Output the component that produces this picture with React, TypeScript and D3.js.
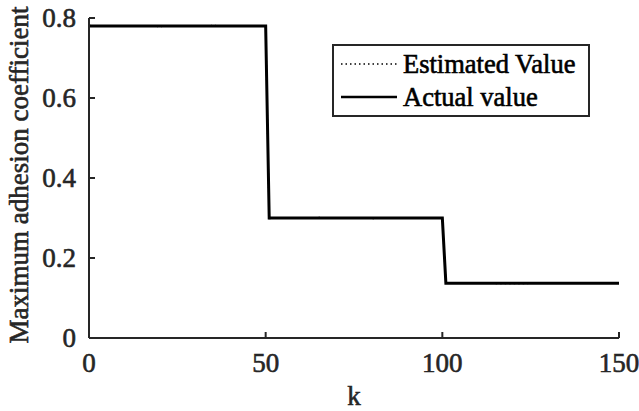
import * as d3 from 'd3';

const W = 639;
const H = 411;

// step profile of the adhesion coefficient
const actualK = [0, 50, 51, 100, 101, 150];
const actualValue = [0.78, 0.78, 0.3, 0.3, 0.137, 0.137];

// estimator output, hugging the true value
const estimatedK = [0, 20, 35, 50, 51, 65, 80, 100, 101, 120, 135, 150];
const estimatedValue = [0.781, 0.779, 0.781, 0.78, 0.299, 0.301, 0.299, 0.3, 0.138, 0.136, 0.138, 0.137];

const xTicks = [0, 50, 100, 150];
const yTicks = [0, 0.2, 0.4, 0.6, 0.8];

const legendItems = ['Estimated Value', 'Actual value'];

const AXIS = '#262626';
// regular Times with a hairline stroke to get the heavier print look
const txt = { fontFamily: 'Liberation Serif', fontSize: 27, stroke: AXIS, strokeWidth: 0.6 };
const legendTxt = { ...txt, fontSize: 26.5, stroke: '#000' };

const m = { left: 89, top: 18, right: 20, bottom: 73 };
const x = d3.scaleLinear().domain([0, 150]).range([m.left, W - m.right]);
const y = d3.scaleLinear().domain([0, 0.8]).range([H - m.bottom, m.top]);

const line = d3
  .line<[number, number]>()
  .x((d) => x(d[0]))
  .y((d) => y(d[1]));

const actual = actualK.map((k, i) => [k, actualValue[i]] as [number, number]);
const estimated = estimatedK.map((k, i) => [k, estimatedValue[i]] as [number, number]);

const fmtY = (v: number) => (v === 0 ? '0' : d3.format('.1f')(v));

export default function App() {
  const x0 = x.range()[0];
  const y0 = y.range()[0];
  return (
    <svg
      width={W}
      height={H}
      style={{ display: 'block', position: 'absolute', left: 0, top: 0, background: '#fff' }}
    >
      <path d={line(actual) ?? ''} fill="none" stroke="#000" strokeWidth={3} />
      <path d={line(estimated) ?? ''} fill="none" stroke="#000" strokeWidth={1.5} strokeDasharray="1.5,3" />

      {/* axes: box off, ticks inward */}
      <line x1={x0} x2={x.range()[1]} y1={y0} y2={y0} stroke={AXIS} strokeWidth={2} />
      <line x1={x0} x2={x0} y1={y0} y2={y.range()[1]} stroke={AXIS} strokeWidth={2} />
      {xTicks.map((t) => (
        <g key={'x' + t}>
          <line x1={x(t)} x2={x(t)} y1={y0} y2={y0 - 6} stroke={AXIS} strokeWidth={2} />
          <text x={x(t)} y={y0 + 15} dy="0.71em" textAnchor="middle" fill={AXIS} style={txt}>
            {t}
          </text>
        </g>
      ))}
      {yTicks.map((t) => (
        <g key={'y' + t}>
          <line x1={x0} x2={x0 + 6} y1={y(t)} y2={y(t)} stroke={AXIS} strokeWidth={2} />
          <text x={x0 - 13} y={y(t)} dy="0.34em" textAnchor="end" fill={AXIS} style={txt}>
            {fmtY(t)}
          </text>
        </g>
      ))}

      <text x={x(75)} y={405} textAnchor="middle" fill={AXIS} style={txt}>
        k
      </text>
      <text transform="translate(28,175) rotate(-90)" textAnchor="middle" fill={AXIS} style={txt}>
        Maximum adhesion coefficient
      </text>

      {/* legend */}
      <g transform="translate(333,45)">
        <rect width={256} height={71} fill="#fff" stroke={AXIS} strokeWidth={2} />
        {legendItems.map((label, i) => {
          const ly = 19 + i * 33;
          return (
            <g key={label}>
              <line
                x1={8}
                x2={64}
                y1={ly}
                y2={ly}
                stroke="#000"
                strokeWidth={i === 0 ? 1.5 : 2.5}
                strokeDasharray={i === 0 ? '1.5,3' : undefined}
              />
              <text x={70} y={ly} dy="0.34em" fill="#000" style={legendTxt}>
                {label}
              </text>
            </g>
          );
        })}
      </g>
    </svg>
  );
}
